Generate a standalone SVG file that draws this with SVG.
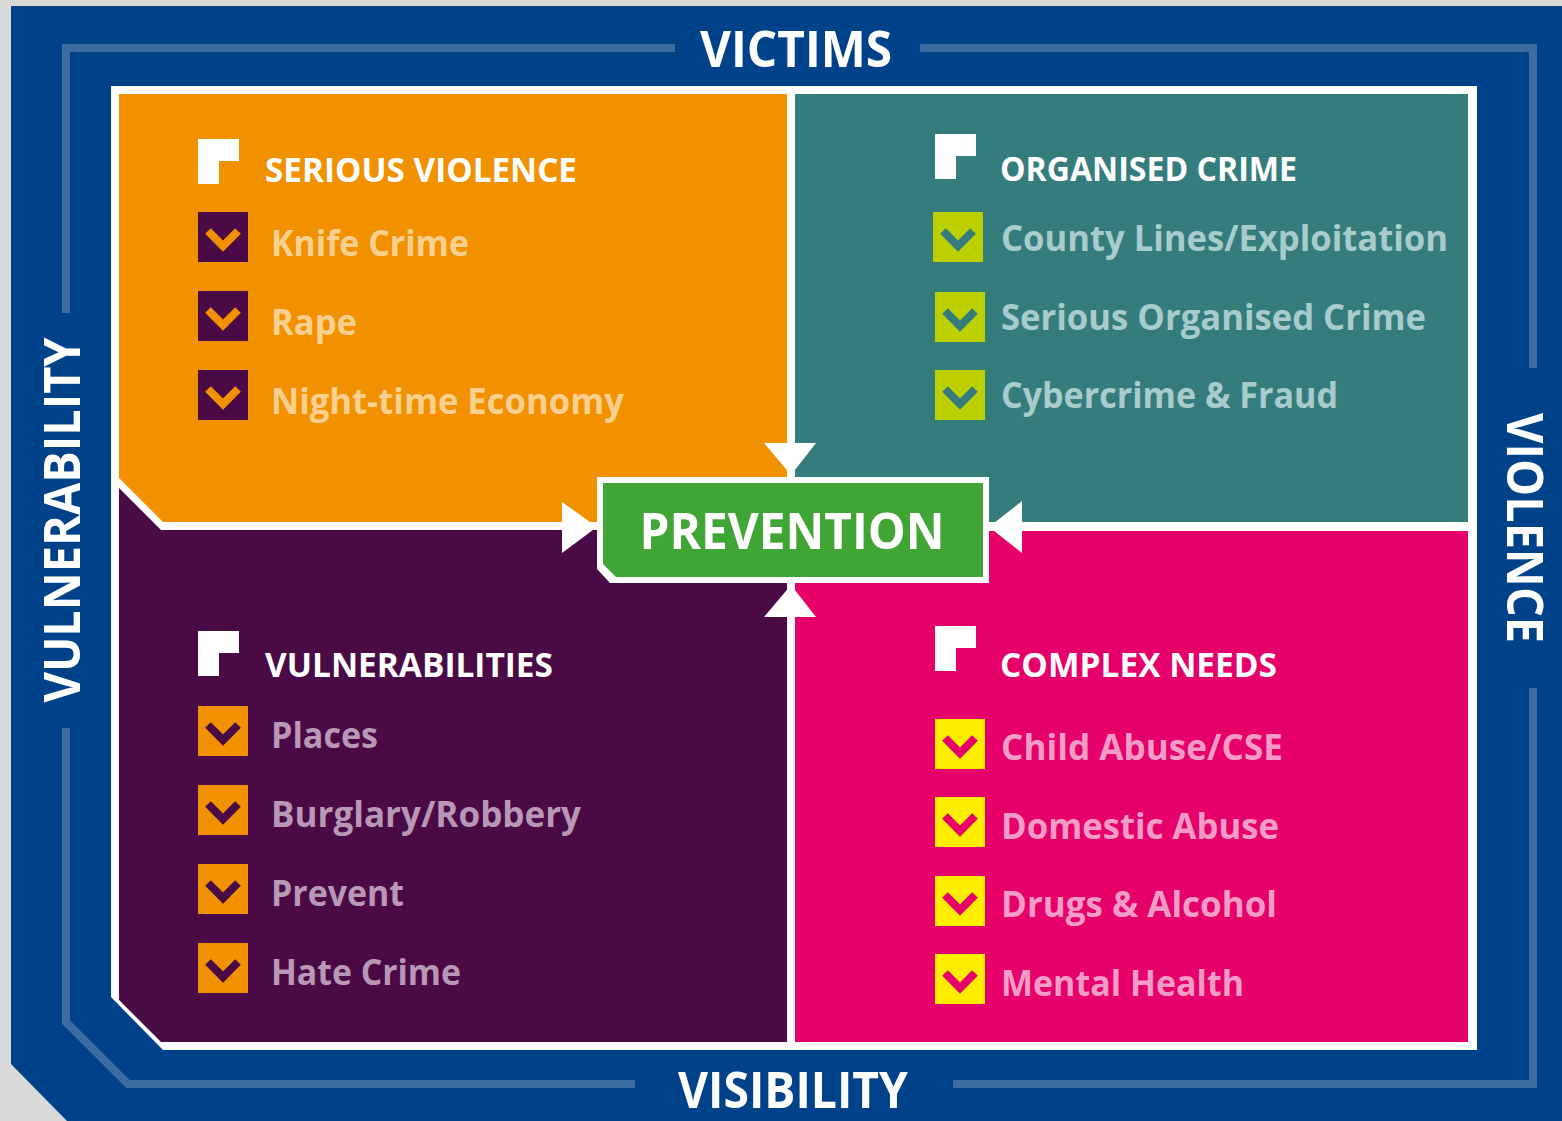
<svg xmlns="http://www.w3.org/2000/svg" width="1562" height="1121" viewBox="0 0 1562 1121">
<style>
.hdr{font-family:"Open Sans","Noto Sans","Liberation Sans",sans-serif;font-weight:700;font-size:34px;fill:#ffffff}
.item{font-family:"Open Sans","Noto Sans","Liberation Sans",sans-serif;font-weight:700;font-size:35px}
.big{font-family:"Open Sans","Noto Sans","Liberation Sans",sans-serif;font-weight:700;font-size:50px;fill:#ffffff}
.chev{fill:none;stroke-width:8;stroke-linejoin:miter;stroke-linecap:butt}
.guide{fill:none;stroke:#3d6ca1;stroke-width:8;stroke-linejoin:miter}
.arrow{fill:#ffffff}
</style>
<defs>
<path id="flag" d="M0,0 h41 v22 h-20 v23 h-21 z" fill="#ffffff"/>
</defs>
<rect x="0" y="0" width="1562" height="1121" fill="#d9d9d9"/>
<g id="frame">
<polygon points="11,6 1562,6 1562,1121 67,1121 11,1064" fill="#00428a"/>
<path class="guide" d="M66,313 V48 H675"/>
<path class="guide" d="M920,48 H1533 V368"/>
<path class="guide" d="M1533,688 V1084 H953"/>
<path class="guide" d="M635,1084 H128 L66,1022 V728"/>
<polygon points="111,86 1477,86 1477,1050 163,1050 111,997" fill="#ffffff"/>
</g>
<g id="label-victims"><text class="big" x="796" y="67" text-anchor="middle" textLength="192" lengthAdjust="spacingAndGlyphs">VICTIMS</text></g>
<g id="label-visibility"><text class="big" x="793" y="1108" text-anchor="middle" textLength="230" lengthAdjust="spacingAndGlyphs">VISIBILITY</text></g>
<g id="label-vulnerability"><text class="big" transform="translate(80,520) rotate(-90)" x="0" y="0" text-anchor="middle" textLength="365" lengthAdjust="spacingAndGlyphs">VULNERABILITY</text></g>
<g id="label-violence"><text class="big" transform="translate(1507,528) rotate(90)" x="0" y="0" text-anchor="middle" textLength="230" lengthAdjust="spacingAndGlyphs">VIOLENCE</text></g>

<g id="serious-violence">
<polygon points="119,94 787,94 787,522 163,522 119,478" fill="#f29100"/>
<use href="#flag" x="198" y="139"/>
<text class="hdr" x="265" y="182" textLength="312" lengthAdjust="spacingAndGlyphs">SERIOUS VIOLENCE</text>
<g fill="#4a0a45"><rect x="198" y="212" width="50" height="50"/><rect x="198" y="291" width="50" height="50"/><rect x="198" y="370" width="50" height="50"/></g>
<g class="chev" stroke="#f29100"><polyline points="208,231 223,246 238,231"/><polyline points="208,310 223,325 238,310"/><polyline points="208,389 223,404 238,389"/></g>
<g class="item" fill="#fad091">
<text x="271" y="256" textLength="198" lengthAdjust="spacingAndGlyphs">Knife Crime</text>
<text x="271" y="335" textLength="86" lengthAdjust="spacingAndGlyphs">Rape</text>
<text x="271" y="414" textLength="353" lengthAdjust="spacingAndGlyphs">Night-time Economy</text>
</g>
</g>

<g id="organised-crime">
<polygon points="795,94 1468,94 1468,522 795,522" fill="#357d7d"/>
<use href="#flag" x="935" y="134"/>
<text class="hdr" x="1000" y="181" textLength="297" lengthAdjust="spacingAndGlyphs">ORGANISED CRIME</text>
<g fill="#bcd000"><rect x="933" y="212" width="50" height="50"/><rect x="935" y="292" width="50" height="50"/><rect x="935" y="370" width="50" height="50"/></g>
<g class="chev" stroke="#357d7d"><polyline points="943,231 958,246 973,231"/><polyline points="945,311 960,326 975,311"/><polyline points="945,389 960,404 975,389"/></g>
<g class="item" fill="#a8cbcb">
<text x="1001" y="251" textLength="447" lengthAdjust="spacingAndGlyphs">County Lines/Exploitation</text>
<text x="1001" y="330" textLength="425" lengthAdjust="spacingAndGlyphs">Serious Organised Crime</text>
<text x="1001" y="408" textLength="337" lengthAdjust="spacingAndGlyphs">Cybercrime &amp; Fraud</text>
</g>
</g>

<g id="vulnerabilities">
<polygon points="119,488 161,530 787,530 787,1042 161,1042 119,1000" fill="#4a0a45"/>
<use href="#flag" x="198" y="631"/>
<text class="hdr" x="265" y="677" textLength="288" lengthAdjust="spacingAndGlyphs">VULNERABILITIES</text>
<g fill="#f29100"><rect x="198" y="706" width="50" height="50"/><rect x="198" y="785" width="50" height="50"/><rect x="198" y="864" width="50" height="50"/><rect x="198" y="943" width="50" height="50"/></g>
<g class="chev" stroke="#4a0a45"><polyline points="208,725 223,740 238,725"/><polyline points="208,804 223,819 238,804"/><polyline points="208,883 223,898 238,883"/><polyline points="208,962 223,977 238,962"/></g>
<g class="item" fill="#b898b6">
<text x="271" y="748" textLength="107" lengthAdjust="spacingAndGlyphs">Places</text>
<text x="271" y="827" textLength="310" lengthAdjust="spacingAndGlyphs">Burglary/Robbery</text>
<text x="271" y="906" textLength="133" lengthAdjust="spacingAndGlyphs">Prevent</text>
<text x="271" y="985" textLength="190" lengthAdjust="spacingAndGlyphs">Hate Crime</text>
</g>
</g>

<g id="complex-needs">
<polygon points="795,531 1468,531 1468,1042 795,1042" fill="#e6006a"/>
<use href="#flag" x="935" y="626"/>
<text class="hdr" x="1000" y="677" textLength="277" lengthAdjust="spacingAndGlyphs">COMPLEX NEEDS</text>
<g fill="#ffed00"><rect x="935" y="719" width="50" height="50"/><rect x="935" y="797" width="50" height="50"/><rect x="935" y="876" width="50" height="50"/><rect x="935" y="954" width="50" height="50"/></g>
<g class="chev" stroke="#e6006a"><polyline points="945,738 960,753 975,738"/><polyline points="945,816 960,831 975,816"/><polyline points="945,895 960,910 975,895"/><polyline points="945,973 960,988 975,973"/></g>
<g class="item" fill="#f59bc7">
<text x="1001" y="760" textLength="282" lengthAdjust="spacingAndGlyphs">Child Abuse/CSE</text>
<text x="1001" y="839" textLength="278" lengthAdjust="spacingAndGlyphs">Domestic Abuse</text>
<text x="1001" y="917" textLength="276" lengthAdjust="spacingAndGlyphs">Drugs &amp; Alcohol</text>
<text x="1001" y="996" textLength="243" lengthAdjust="spacingAndGlyphs">Mental Health</text>
</g>
</g>

<g id="prevention">
<polygon points="597,477 989,477 989,583 610,583 597,569" fill="#ffffff"/>
<polygon points="603,483 983,483 983,577 616,577 603,564" fill="#41a535"/>
<text class="big" x="792" y="549" text-anchor="middle" textLength="305" lengthAdjust="spacingAndGlyphs">PREVENTION</text>
</g>

<g id="connectors">
<polygon class="arrow" points="764,443 816,443 791,475"/>
<polygon class="arrow" points="764,617 816,617 791,585"/>
<polygon class="arrow" points="562,502 562,553 597,527"/>
<polygon class="arrow" points="1022,501 1022,553 989,527"/>
</g>
</svg>
